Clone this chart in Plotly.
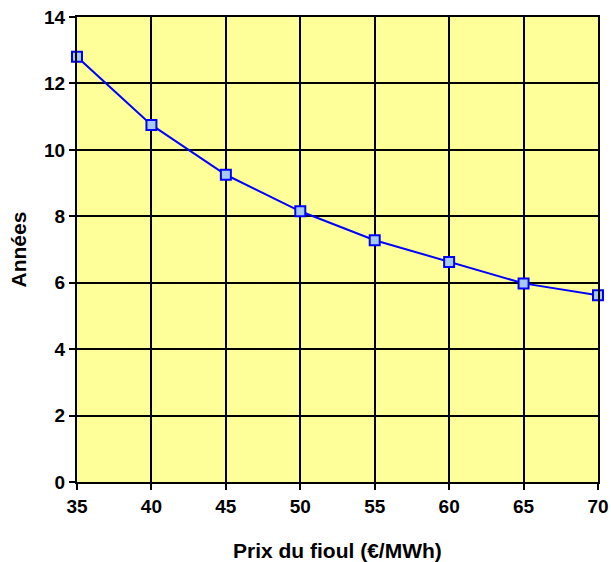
import plotly.graph_objects as go

prix = [35, 40, 45, 50, 55, 60, 65, 70]
annees = [12.8, 10.75, 9.25, 8.15, 7.28, 6.62, 5.98, 5.62]
x_ticks = [35, 40, 45, 50, 55, 60, 65, 70]
y_ticks = [0, 2, 4, 6, 8, 10, 12, 14]
x_title = "Prix du fioul (€/MWh)"
y_title = "Années"

FAM = "Liberation Sans, Arial, sans-serif"
tickfont = dict(family=FAM, size=19, color="black")

fig = go.Figure()
fig.add_trace(go.Scatter(
    x=prix, y=annees, mode="lines+markers",
    line=dict(color="#0000FF", width=2),
    marker=dict(symbol="square", size=10, color="#A6CAF0",
                line=dict(color="#0000FF", width=2)),
    cliponaxis=False,
))

fig.update_layout(
    width=611, height=562,
    margin=dict(l=77, r=13, t=17, b=80, autoexpand=False),
    paper_bgcolor="white", plot_bgcolor="#FFFF99",
    showlegend=False,
    font=dict(family=FAM, size=19, color="black"),
    xaxis=dict(
        range=[35, 70], tickvals=x_ticks, ticktext=[f"<b>{v}</b>" for v in x_ticks],
        tickfont=tickfont,
        showgrid=True, gridcolor="black", gridwidth=2,
        showline=True, linecolor="black", linewidth=2, mirror=True,
        ticks="outside", ticklen=6, tickwidth=2, tickcolor="black",
        zeroline=False, automargin=False,
    ),
    yaxis=dict(
        range=[0, 14], tickvals=y_ticks, ticktext=[f"<b>{v}</b>" for v in y_ticks],
        tickfont=tickfont,
        showgrid=True, gridcolor="black", gridwidth=2,
        showline=True, linecolor="black", linewidth=2, mirror=True,
        ticks="outside", ticklen=6, tickwidth=2, tickcolor="black",
        zeroline=False, automargin=False,
    ),
    annotations=[
        dict(text=f"<b>{x_title}</b>", xref="paper", yref="paper",
             x=0.5, y=0, yshift=-68, xanchor="center", yanchor="middle",
             showarrow=False, font=dict(family=FAM, size=21, color="black")),
        dict(text=f"<b>{y_title}</b>", xref="paper", yref="paper",
             x=0, y=0.5, xshift=-59, xanchor="center", yanchor="middle",
             textangle=-90, showarrow=False, font=dict(family=FAM, size=21, color="black")),
    ],
)
fig.write_html("out.html", config={"displayModeBar": False},
               post_script="document.body.style.margin='0';")
